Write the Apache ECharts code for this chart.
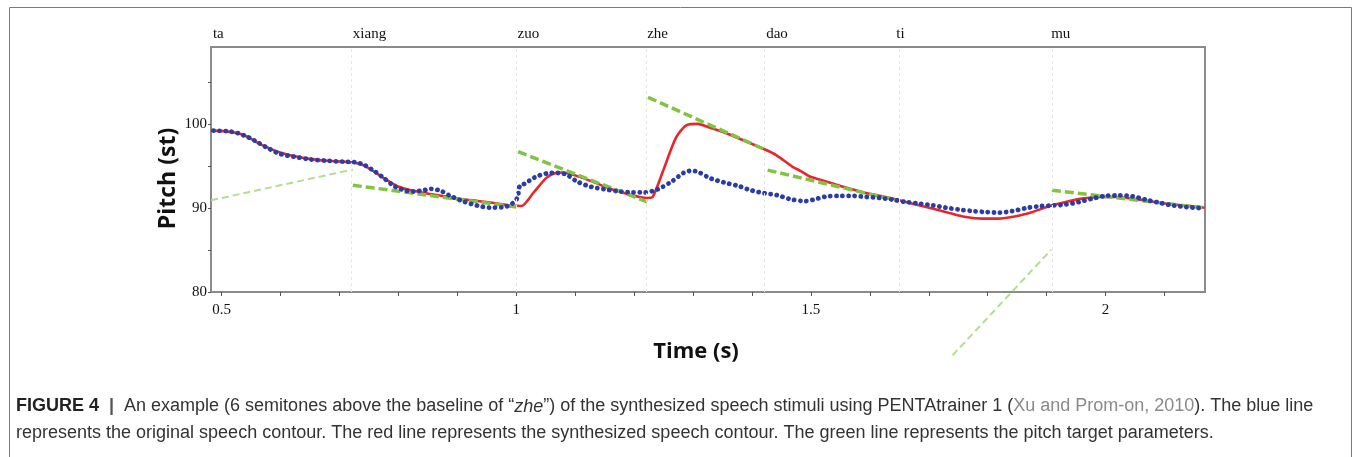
<!DOCTYPE html>
<html>
<head>
<meta charset="utf-8">
<script src="https://cdn.jsdelivr.net/npm/echarts@6/dist/echarts.min.js"></script>
<style>
html,body{margin:0;padding:0;background:#fff;}
#chart{width:1355px;height:457px;}
</style>
</head>
<body>
<div id="chart"></div>
<script>
// ---- data ----
const syllables = ['ta', 'xiang', 'zuo', 'zhe', 'dao', 'ti', 'mu'];
const syllableOnsets = [0.485, 0.7225, 1.002, 1.222, 1.424, 1.645, 1.9077];

const xTickValues = [0.5, 0.6, 0.7, 0.8, 0.9, 1.0, 1.1, 1.2, 1.3, 1.4, 1.5, 1.6, 1.7, 1.8, 1.9, 2.0, 2.1];
const xLabelValues = [0.5, 1, 1.5, 2];
const yTickValues = [80, 85, 90, 95, 100, 105];
const yLabelValues = [80, 90, 100];

// original speech contour (blue)
const origTime = [0.486, 0.511, 0.528, 0.545, 0.562, 0.581, 0.600, 0.623, 0.651, 0.680, 0.708, 0.725, 0.742, 0.759, 0.776, 0.793, 0.810, 0.826, 0.843, 0.855, 0.872, 0.889, 0.911, 0.934, 0.956, 0.979, 0.993, 1.002, 1.006, 1.014, 1.025, 1.037, 1.059, 1.082, 1.104, 1.127, 1.150, 1.172, 1.195, 1.217, 1.240, 1.263, 1.285, 1.297, 1.308, 1.330, 1.353, 1.376, 1.398, 1.421, 1.443, 1.466, 1.490, 1.511, 1.525, 1.548, 1.571, 1.593, 1.616, 1.638, 1.661, 1.684, 1.706, 1.729, 1.751, 1.774, 1.797, 1.819, 1.842, 1.864, 1.887, 1.909, 1.932, 1.955, 1.977, 2.000, 2.022, 2.045, 2.068, 2.090, 2.113, 2.136, 2.158, 2.168];
const origPitch = [99.23, 99.16, 98.92, 98.44, 97.80, 97.04, 96.44, 96.12, 95.80, 95.64, 95.52, 95.48, 95.13, 94.41, 93.53, 92.61, 92.13, 91.98, 92.13, 92.29, 92.05, 91.41, 90.78, 90.30, 90.06, 90.13, 90.54, 91.26, 92.70, 92.90, 93.40, 93.84, 94.20, 94.08, 93.13, 92.53, 92.25, 92.01, 91.89, 91.86, 92.25, 93.13, 94.25, 94.44, 94.32, 93.53, 93.05, 92.65, 92.13, 91.77, 91.53, 91.05, 90.83, 91.13, 91.37, 91.45, 91.45, 91.33, 91.21, 91.01, 90.73, 90.54, 90.33, 90.06, 89.82, 89.65, 89.53, 89.46, 89.65, 89.98, 90.22, 90.30, 90.42, 90.73, 91.13, 91.45, 91.53, 91.41, 91.01, 90.66, 90.33, 90.13, 90.01, 89.98];

// synthesized speech contour (red)
const synthTime = [0.482, 0.516, 0.538, 0.567, 0.595, 0.623, 0.651, 0.680, 0.719, 0.736, 0.753, 0.776, 0.798, 0.821, 0.849, 0.877, 0.906, 0.934, 0.962, 0.990, 1.0085, 1.028, 1.051, 1.068, 1.079, 1.102, 1.130, 1.158, 1.186, 1.209, 1.223, 1.2315, 1.2485, 1.271, 1.290, 1.308, 1.328, 1.356, 1.384, 1.424, 1.441, 1.469, 1.482, 1.497, 1.5085, 1.537, 1.565, 1.593, 1.621, 1.650, 1.678, 1.706, 1.735, 1.763, 1.791, 1.817, 1.848, 1.876, 1.904, 1.932, 1.960, 1.988, 2.017, 2.045, 2.073, 2.102, 2.130, 2.158, 2.168];
const synthPitch = [99.23, 99.08, 98.68, 97.56, 96.72, 96.20, 95.84, 95.64, 95.45, 95.25, 94.60, 93.53, 92.61, 92.13, 91.74, 91.41, 91.09, 90.85, 90.61, 90.30, 90.25, 91.74, 93.60, 94.20, 94.25, 93.84, 93.13, 92.33, 91.74, 91.33, 91.21, 91.33, 94.32, 98.40, 99.92, 100.04, 99.60, 98.92, 98.12, 96.92, 96.32, 94.92, 94.44, 93.80, 93.53, 92.93, 92.33, 91.81, 91.41, 90.93, 90.42, 89.94, 89.41, 88.93, 88.74, 88.74, 89.02, 89.53, 90.22, 90.73, 91.13, 91.33, 91.33, 91.13, 90.85, 90.54, 90.33, 90.13, 90.05];

// pitch targets (green), one per syllable
const targetStartTime = [0.482, 0.7225, 1.003, 1.2236, 1.4265, 1.7405, 1.909];
const targetStartPitch = [90.93, 92.73, 96.72, 103.2, 94.53, 72.46, 92.13];
const targetEndTime = [0.7225, 1.000, 1.222, 1.4237, 1.645, 1.9077, 2.164];
const targetEndPitch = [94.60, 90.13, 90.73, 96.92, 90.93, 85.03, 90.06];

// ---- chart ----
const paleTargets = new Set(['ta', 'ti']);
const serif = '"Liberation Serif", "DejaVu Serif", serif';
const sans = '"Liberation Sans", Arial, sans-serif';
const titleFont = '"Open Sans", sans-serif';

const near = (a, b) => Math.abs(a - b) < 1e-6;

const targetSeries = syllables.map((s, i) => {
  const pale = paleTargets.has(s);
  return {
    name: 'target-' + s,
    type: 'line',
    z: 3,
    clip: false,
    symbol: 'none',
    silent: true,
    data: [[targetStartTime[i], targetStartPitch[i]], [targetEndTime[i], targetEndPitch[i]]],
    lineStyle: pale
      ? { color: '#b6dc92', width: 2, type: [7, 4] }
      : { color: '#82c341', width: 3.5, type: [9, 4] }
  };
});

const chart = echarts.init(document.getElementById('chart'), null, { renderer: 'canvas' });

const capSize = 18;
const capLH = 27;

chart.setOption({
  animation: false,
  backgroundColor: '#ffffff',
  grid: {
    left: 211, right: 150, top: 47, bottom: 165,
    show: true, borderColor: '#8a8a8a', borderWidth: 2, backgroundColor: 'transparent'
  },
  xAxis: [
    {
      type: 'value', position: 'bottom',
      min: 0.4818, max: 2.1688,
      axisLine: { show: true, lineStyle: { color: '#8a8a8a', width: 2 } },
      axisTick: { show: true, customValues: xTickValues, length: 4, inside: false, lineStyle: { color: '#555', width: 1 } },
      axisLabel: {
        show: true, customValues: xLabelValues, margin: 11,
        fontFamily: serif, fontSize: 15, color: '#111',
        formatter: v => String(v)
      },
      splitLine: { show: false }
    },
    {
      type: 'value', position: 'top',
      min: 0.4818, max: 2.1688,
      axisLine: { show: false },
      axisTick: { show: false },
      axisLabel: {
        show: true, customValues: syllableOnsets, margin: 5,
        align: 'left',
        fontFamily: serif, fontSize: 15, color: '#111',
        formatter: v => {
          const k = syllableOnsets.findIndex(t => near(t, v));
          return k >= 0 ? syllables[k] : '';
        }
      },
      splitLine: { show: false }
    }
  ],
  yAxis: [
    {
      type: 'value',
      min: 80, max: 109.2,
      axisLine: { show: true, lineStyle: { color: '#8a8a8a', width: 2 } },
      axisTick: { show: true, customValues: yTickValues, length: 3, lineStyle: { color: '#555', width: 1 } },
      axisLabel: {
        show: true, customValues: yLabelValues, margin: 4,
        fontFamily: serif, fontSize: 15, color: '#111',
        formatter: v => String(v)
      },
      splitLine: { show: false }
    }
  ],
  graphic: [
    {
      type: 'rect', silent: true, z: -10,
      shape: { x: 9.5, y: 7.5, width: 1342, height: 470 },
      style: { fill: 'none', stroke: '#7a7a7a', lineWidth: 1 }
    },
    {
      type: 'text', silent: true,
      x: 168, y: 178.5, rotation: Math.PI / 2,
      style: {
        text: 'Pitch (st)', x: 0, y: 0, align: 'center', verticalAlign: 'middle',
        font: 'bold 23px ' + titleFont, fill: '#111'
      }
    },
    {
      type: 'text', silent: true,
      x: 696, y: 352,
      style: {
        text: 'Time (s)', x: 0, y: 0, align: 'center', verticalAlign: 'middle',
        font: 'bold 22px ' + titleFont, fill: '#111'
      }
    },
    {
      type: 'text', left: 16, top: 393, silent: true,
      style: {
        text: '{b|FIGURE 4}  {bar||}  {t|An example (6 semitones above the baseline of \u201c}{i|zhe}{t|\u201d) of the synthesized speech stimuli using PENTAtrainer 1 (}{g|Xu and Prom-on, 2010}{t|). The blue line}\n{t|represents the original speech contour. The red line represents the synthesized speech contour. The green line represents the pitch target parameters.}',
        font: capSize + 'px ' + sans,
        fill: '#333',
        lineHeight: capLH,
        rich: {
          b: { fontFamily: sans, fontSize: capSize, fontWeight: 'bold', fill: '#222', lineHeight: capLH },
          bar: { fontFamily: sans, fontSize: capSize, fontWeight: 'bold', fill: '#555', lineHeight: capLH },
          t: { fontFamily: sans, fontSize: capSize, fill: '#333', lineHeight: capLH },
          i: { fontFamily: sans, fontSize: capSize, fontStyle: 'italic', fill: '#333', lineHeight: capLH },
          g: { fontFamily: sans, fontSize: capSize, fill: '#8a8a8a', lineHeight: capLH }
        }
      }
    }
  ],
  series: [
    {
      name: 'synthesized',
      type: 'line',
      z: 2,
      symbol: 'none',
      smooth: 0.25,
      silent: true,
      data: synthTime.map((t, i) => [t, synthPitch[i]]),
      lineStyle: { color: '#e8262b', width: 2.6 },
      markLine: {
        silent: true,
        symbol: 'none',
        label: { show: false },
        lineStyle: { color: '#e6e6e6', type: [3, 3], width: 1 },
        data: syllableOnsets.slice(1).map(t => ({ xAxis: t }))
      }
    },
    ...targetSeries,
    {
      name: 'original',
      type: 'line',
      z: 4,
      symbol: 'none',
      smooth: 0.3,
      silent: true,
      data: origTime.map((t, i) => [t, origPitch[i]]),
      lineStyle: { color: '#2a3ca6', width: 4.8, type: [0.1, 6], cap: 'round' }
    }
  ]
});
</script>
</body>
</html>
